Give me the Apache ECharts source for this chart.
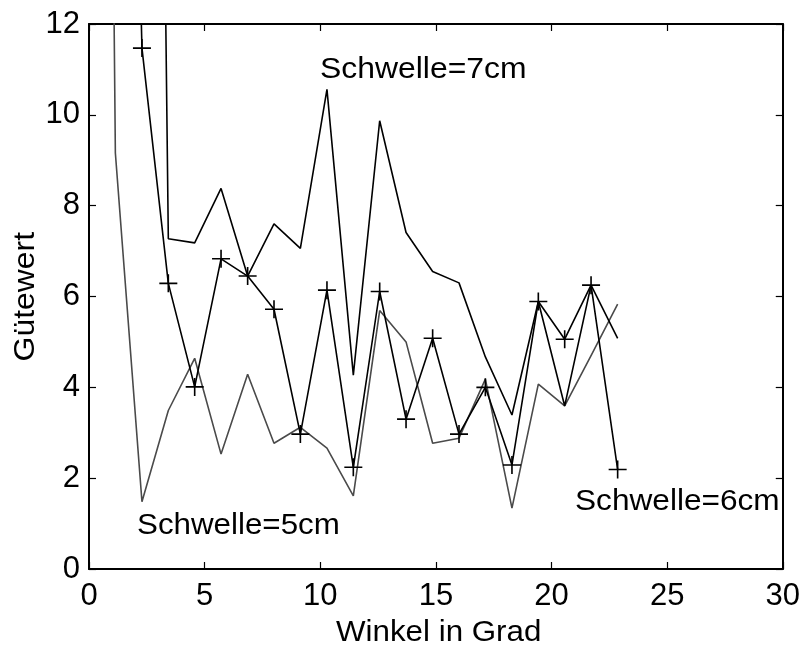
<!DOCTYPE html>
<html>
<head>
<meta charset="utf-8">
<script src="https://cdn.jsdelivr.net/npm/echarts@6/dist/echarts.min.js"></script>
<style>
html, body { margin: 0; padding: 0; background: #fff; }
#chart { width: 803px; height: 647px; }
</style>
</head>
<body>
<div id="chart"></div>
<script>
// Winkel (Grad), Schrittweite 8/7
var winkel = [0, 1.14, 2.29, 3.43, 4.57, 5.71, 6.86, 8.0, 9.14, 10.29, 11.43,
  12.57, 13.71, 14.86, 16.0, 17.14, 18.29, 19.43, 20.57, 21.71, 22.86];

// Gütewert je Schwelle (null = kein Wert)
var schwelle7 = [null, null, 57, 7.27, 7.18, 8.38, 6.45, 7.6, 7.06, 10.56, 4.27,
  9.87, 7.41, 6.55, 6.3, 4.67, 3.39, 5.89, 3.59, 6.25, 5.08];
var schwelle6 = [null, 35, 11.47, 6.29, 4.01, 6.83, 6.45, 5.72, 2.97, 6.14, 2.24,
  6.11, 3.3, 5.08, 2.97, 4.0, 2.29, 5.89, 5.06, 6.25, 2.19];
var schwelle5 = [70, 9.16, 1.48, 3.49, 4.64, 2.53, 4.29, 2.77, 3.12, 2.66, 1.61,
  5.69, 5.0, 2.77, 2.88, 4.18, 1.34, 4.07, 3.59, 4.7, 5.83];

var xTicks = [0, 5, 10, 15, 20, 25, 30];
var yTicks = [0, 2, 4, 6, 8, 10, 12];

function pairs(ys) {
  var out = [];
  for (var i = 0; i < winkel.length; i++) {
    if (ys[i] !== null) out.push([winkel[i], ys[i]]);
  }
  return out;
}

var font = 'Liberation Sans, Arial, sans-serif';
var plus = 'path://M0,4.55H10V5.45H0Z M4.55,0H5.45V10H4.55Z';

var chart = echarts.init(document.getElementById('chart'));

function frameAxis(extra) {
  return Object.assign({
    axisLine: { show: true, onZero: false, lineStyle: { color: '#000', width: 2 } },
    axisTick: { show: true, inside: true, length: 7, lineStyle: { color: '#000', width: 1.2 } },
    splitLine: { show: false }
  }, extra);
}

chart.setOption({
  animation: false,
  backgroundColor: '#fff',
  grid: { left: 89, top: 24, right: 19, bottom: 78 },
  xAxis: [
    frameAxis({
      type: 'value', min: xTicks[0], max: xTicks[xTicks.length - 1], interval: 5,
      axisLabel: { fontFamily: font, fontSize: 31, color: '#000', margin: 12 }
    }),
    frameAxis({
      type: 'value', position: 'top', min: 0, max: 30, interval: 5,
      axisLabel: { show: false }
    })
  ],
  yAxis: [
    frameAxis({
      type: 'value', min: yTicks[0], max: yTicks[yTicks.length - 1], interval: 2,
      axisLabel: { fontFamily: font, fontSize: 31, color: '#000', margin: 9 }
    }),
    frameAxis({
      type: 'value', position: 'right', min: 0, max: 12, interval: 2,
      axisLabel: { show: false }
    })
  ],
  series: [
    {
      name: 'Schwelle=5cm', type: 'line', data: pairs(schwelle5),
      showSymbol: false, symbol: 'none', clip: true,
      lineStyle: { color: '#4a4a4a', width: 1.6 }
    },
    {
      name: 'Schwelle=7cm', type: 'line', data: pairs(schwelle7),
      showSymbol: false, symbol: 'none', clip: true,
      lineStyle: { color: '#000', width: 1.6 }
    },
    {
      name: 'Schwelle=6cm', type: 'line', data: pairs(schwelle6),
      symbol: plus, symbolSize: 18, showSymbol: true, clip: true,
      itemStyle: { color: '#000' },
      lineStyle: { color: '#000', width: 1.6 }
    }
  ],
  graphic: [
    { type: 'text', left: 320, top: 55, scaleX: 1.1, style: { text: 'Schwelle=7cm', font: '29px ' + font, fill: '#000' } },
    { type: 'text', left: 137, top: 511, scaleX: 1.08, style: { text: 'Schwelle=5cm', font: '29px ' + font, fill: '#000' } },
    { type: 'text', left: 575, top: 487, scaleX: 1.09, style: { text: 'Schwelle=6cm', font: '29px ' + font, fill: '#000' } },
    { type: 'text', left: 336, top: 618, scaleX: 1.08, style: { text: 'Winkel in Grad', font: '29px ' + font, fill: '#000' } },
    { type: 'text', left: 11, top: 232, rotation: Math.PI / 2, scaleX: 1.1, style: { text: 'Gütewert', font: '29px ' + font, fill: '#000' } }
  ]
});
</script>
</body>
</html>
